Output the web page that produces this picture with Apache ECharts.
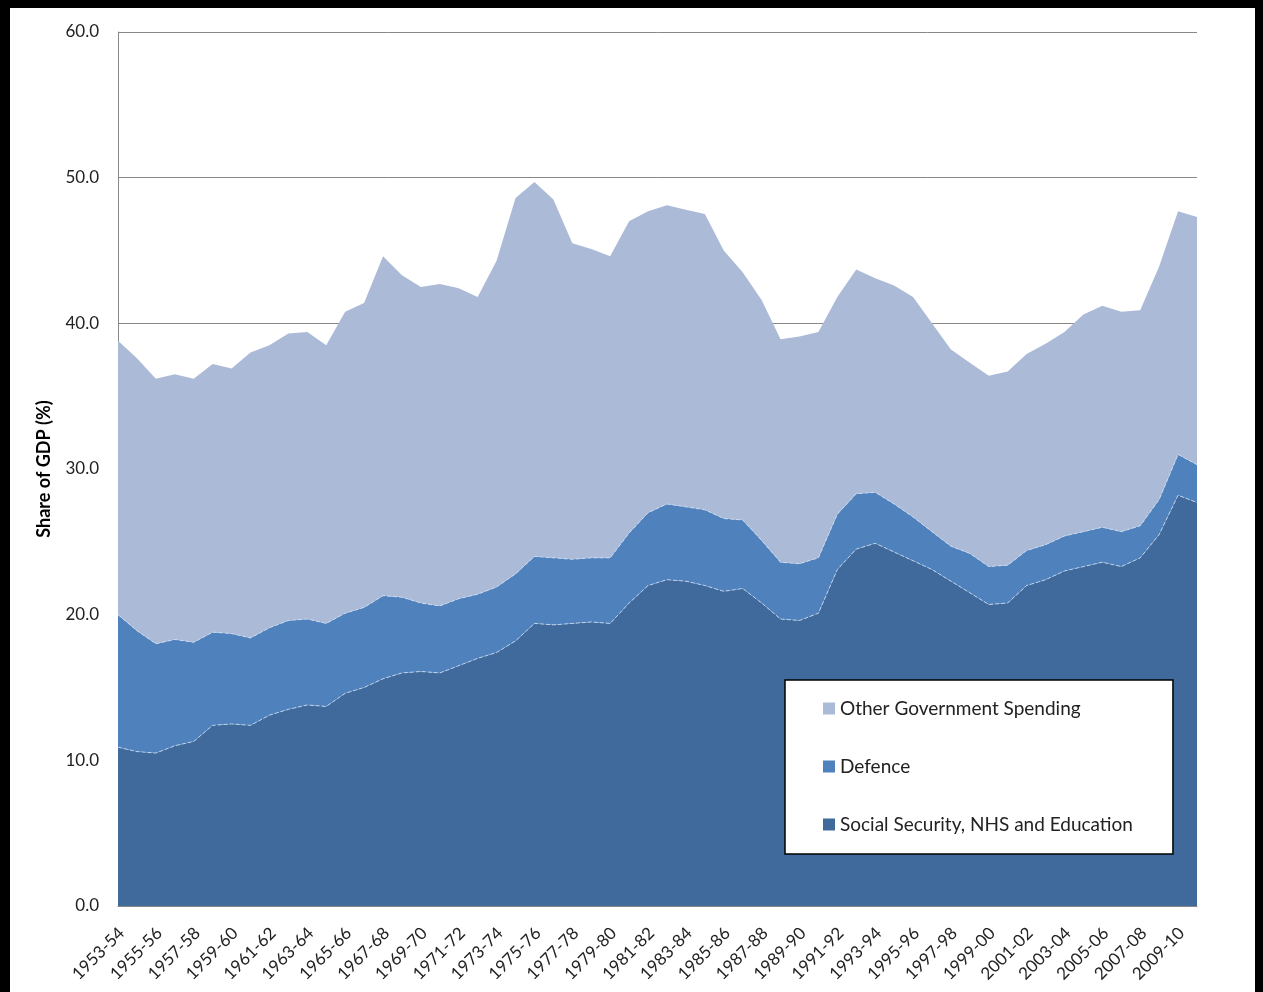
<!DOCTYPE html>
<html>
<head>
<meta charset="utf-8">
<script src="https://cdn.jsdelivr.net/npm/echarts@6/dist/echarts.min.js"></script>
<style>
html,body{margin:0;padding:0;background:#fff;}
#wrap{position:relative;width:1263px;height:992px;overflow:hidden;}
#chart{position:absolute;left:0;top:0;width:1263px;height:992px;}
.bt{position:absolute;background:#000;}
</style>
</head>
<body>
<div id="wrap">
<div id="chart"></div>
<div class="bt" style="left:0;top:0;width:1263px;height:8px;"></div>
<div class="bt" style="left:0;top:0;width:10px;height:992px;"></div>
<div class="bt" style="left:1255px;top:0;width:8px;height:992px;"></div>
</div>
<script>
var years = ['1953-54','1954-55','1955-56','1956-57','1957-58','1958-59','1959-60','1960-61','1961-62','1962-63',
'1963-64','1964-65','1965-66','1966-67','1967-68','1968-69','1969-70','1970-71','1971-72','1972-73',
'1973-74','1974-75','1975-76','1976-77','1977-78','1978-79','1979-80','1980-81','1981-82','1982-83',
'1983-84','1984-85','1985-86','1986-87','1987-88','1988-89','1989-90','1990-91','1991-92','1992-93',
'1993-94','1994-95','1995-96','1996-97','1997-98','1998-99','1999-00','2000-01','2001-02','2002-03',
'2003-04','2004-05','2005-06','2006-07','2007-08','2008-09','2009-10','2010-11'];

var socialSecurityNhsEducation = [10.9,10.6,10.5,11.0,11.3,12.4,12.5,12.4,13.1,13.5,
13.8,13.7,14.6,15.0,15.6,16.0,16.1,16.0,16.5,17.0,
17.4,18.2,19.4,19.3,19.4,19.5,19.4,20.8,22.0,22.4,
22.3,22.0,21.6,21.8,20.8,19.7,19.6,20.1,23.1,24.5,
24.9,24.3,23.7,23.1,22.3,21.5,20.7,20.8,22.0,22.4,
23.0,23.3,23.6,23.3,23.9,25.5,28.2,27.7];

var defence = [9.1,8.3,7.5,7.3,6.8,6.4,6.2,6.0,6.0,6.1,
5.9,5.7,5.5,5.5,5.7,5.2,4.7,4.6,4.6,4.4,
4.5,4.6,4.6,4.6,4.4,4.4,4.5,4.8,5.0,5.2,
5.1,5.2,5.0,4.7,4.3,3.9,3.9,3.8,3.8,3.8,
3.5,3.3,3.0,2.6,2.4,2.7,2.6,2.6,2.4,2.4,
2.4,2.4,2.4,2.4,2.2,2.4,2.8,2.6];

var otherSpending = [18.8,18.7,18.2,18.2,18.1,18.4,18.2,19.6,19.4,19.7,
19.7,19.1,20.7,20.9,23.3,22.1,21.7,22.1,21.3,20.4,
22.4,25.8,25.7,24.6,21.7,21.2,20.7,21.4,20.7,20.5,
20.4,20.3,18.4,17.0,16.5,15.3,15.6,15.5,14.9,15.4,
14.7,15.0,15.1,14.3,13.5,13.1,13.1,13.3,13.5,13.8,
14.0,14.9,15.2,15.1,14.8,16.0,16.7,17.0];

var yTicks = [0,10,20,30,40,50,60];

var FONT = 'Lato, "Open Sans", sans-serif';
var chart = echarts.init(document.getElementById('chart'), null, {renderer:'canvas'});

function areaSeries(name, data, color, edge) {
  return {
    name: name,
    type: 'line',
    stack: 'total',
    data: data,
    symbol: 'none',
    smooth: false,
    lineStyle: edge ? {width: 1, color: 'rgba(210,225,245,0.8)', type: 'dashed'} : {width: 0},
    areaStyle: {color: color, opacity: 1},
    itemStyle: {color: color},
    emphasis: {disabled: true}
  };
}

chart.setOption({
  animation: false,
  backgroundColor: '#fff',
  grid: {left: 118, right: 66, top: 32, bottom: 86, containLabel: false},
  legend: {
    data: ['Other Government Spending', 'Defence', 'Social Security, NHS and Education'],
    orient: 'vertical',
    left: 785,
    top: 680,
    padding: [19, 40, 20, 38],
    itemGap: 39,
    itemWidth: 12,
    itemHeight: 12,
    icon: 'rect',
    backgroundColor: '#fff',
    borderColor: '#000',
    borderWidth: 1.5,
    textStyle: {fontFamily: FONT, fontSize: 19, color: '#222'},
    selectedMode: false
  },
  xAxis: {
    type: 'category',
    data: years,
    boundaryGap: false,
    axisLine: {show: true, lineStyle: {color: '#888', width: 1}},
    axisTick: {show: false},
    axisLabel: {
      interval: 1,
      rotate: 45,
      margin: 28,
      padding: [0, -5, 0, 0],
      fontFamily: FONT,
      fontSize: 17,
      color: '#222'
    },
    splitLine: {show: false}
  },
  yAxis: {
    type: 'value',
    min: yTicks[0],
    max: yTicks[yTicks.length - 1],
    interval: 10,
    name: 'Share of GDP (%)',
    nameLocation: 'middle',
    nameGap: 65,
    nameRotate: 90,
    nameTextStyle: {fontFamily: FONT, fontSize: 18, fontWeight: 'bold', color: '#000'},
    axisLine: {show: true, lineStyle: {color: '#888', width: 1}},
    axisTick: {show: false},
    axisLabel: {
      margin: 19,
      fontFamily: FONT,
      fontSize: 17,
      color: '#222',
      formatter: function (v) { return v.toFixed(1); }
    },
    splitLine: {show: true, lineStyle: {color: '#888', width: 1}}
  },
  series: [
    areaSeries('Social Security, NHS and Education', socialSecurityNhsEducation, '#416A9C', true),
    areaSeries('Defence', defence, '#4F81BD', true),
    areaSeries('Other Government Spending', otherSpending, '#ABBAD7', false)
  ]
});
</script>
</body>
</html>
